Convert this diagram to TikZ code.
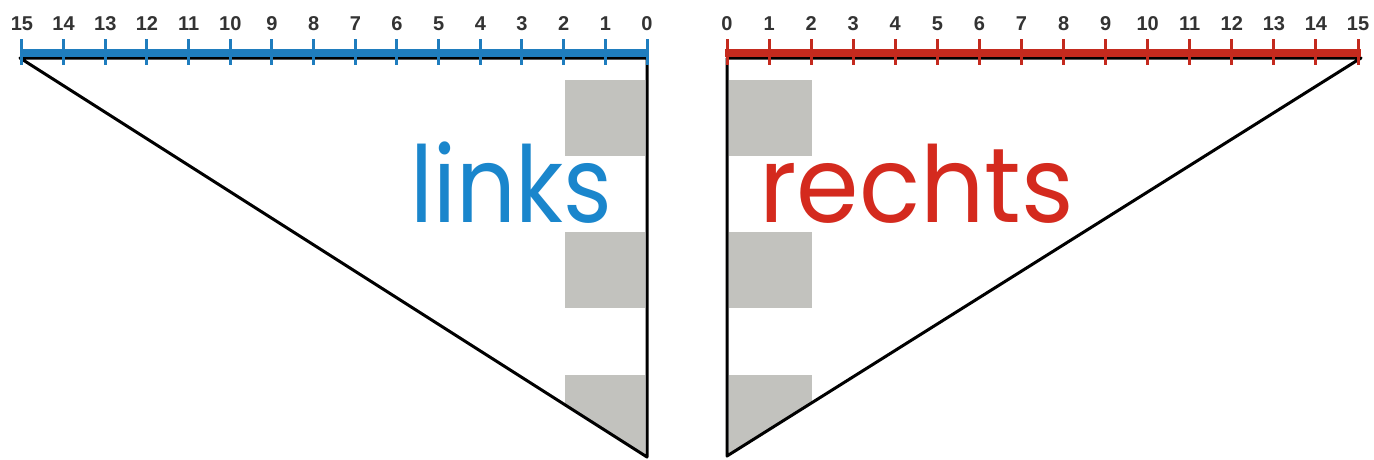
\documentclass[tikz,border=0pt]{standalone}
\usepackage{fontspec}
\newfontfamily\numfont{Liberation Sans}
\newfontfamily\wordfont{Poppins}
\definecolor{lblue}{HTML}{1A86CC}
\definecolor{barblue}{HTML}{1F7DBE}
\definecolor{rred}{HTML}{D42A1E}
\definecolor{barred}{HTML}{C42A1E}
\definecolor{shade}{HTML}{C2C2BE}
\tikzset{
  num/.style={font=\numfont\bfseries\fontsize{20}{20}\selectfont, text=black!80, inner sep=0pt, anchor=base},
  edge/.style={line width=3pt, black, line join=round},
  tickmark/.style={line width=3pt},
  word/.style={inner sep=0pt, anchor=base west, font=\wordfont\fontsize{106}{106}\selectfont},
  greybox/.style={fill=shade, draw=none}
}
\begin{document}
\begin{tikzpicture}[x=1pt,y=-1pt]
\useasboundingbox (0,0) rectangle (1374,459);
\fill[white] (0,0) rectangle (1374,459);
% ---- left triangle ----
\coordinate (LA) at (20,58);
\coordinate (LB) at (647,58);
\coordinate (LC) at (647,457);
\begin{scope}
  \clip (LA) -- (LB) -- (LC) -- cycle;
  \fill[greybox] (565,80) rectangle (645,156);
  \fill[greybox] (565,232) rectangle (645,308);
  \fill[greybox] (565,375) rectangle (645,457);
\end{scope}
\node[word, text=lblue] (links) at (410,222) {\scalebox{0.88}[1]{links}};
\draw[edge] (LA) -- (LB) -- (LC) -- cycle;
\draw[barblue, line width=8pt] (20,53) -- (649,53);
\foreach \i in {0,...,15} {
  \pgfmathsetmacro{\xx}{647-\i*41.67}
  \draw[barblue, tickmark] (\xx,39) -- (\xx,65);
  \node[num] (ln\i) at (\xx,30) {\i};
}
% ---- right triangle ----
\coordinate (RA) at (727,58);
\coordinate (RB) at (1361,58);
\coordinate (RC) at (727,456);
\begin{scope}
  \clip (RA) -- (RB) -- (RC) -- cycle;
  \fill[greybox] (729,80) rectangle (812,156);
  \fill[greybox] (729,232) rectangle (812,308);
  \fill[greybox] (729,375) rectangle (812,456);
\end{scope}
\node[word, text=rred] (rechts) at (759,222) {\scalebox{0.95}[1]{rechts}};
\draw[edge] (RA) -- (RB) -- (RC) -- cycle;
\draw[barred, line width=8pt] (725,53) -- (1361,53);
\foreach \i in {0,...,15} {
  \pgfmathsetmacro{\xx}{727+\i*42.07}
  \draw[barred, tickmark] (\xx,39) -- (\xx,65);
  \node[num] (rn\i) at (\xx,30) {\i};
}
\end{tikzpicture}
\end{document}
